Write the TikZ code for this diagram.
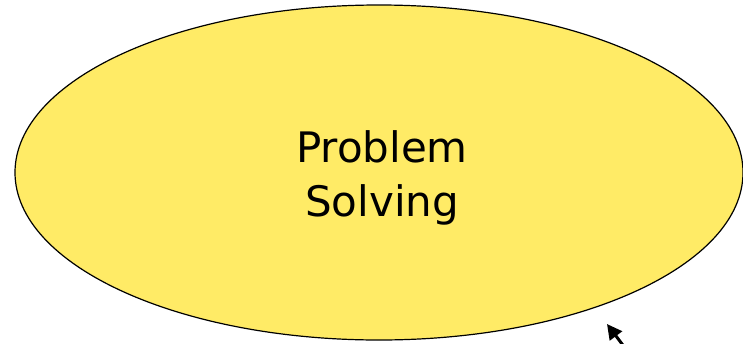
\documentclass[tikz,border=0pt]{standalone}
\usepackage{fontspec}
\setmainfont{DejaVu Sans}
\usetikzlibrary{shapes.geometric,arrows.meta}
\definecolor{blobyellow}{RGB}{255,235,102}

\begin{document}
\begin{tikzpicture}[x=1pt,y=1pt]
\path[use as bounding box] (0,0) rectangle (743,-343);

\node[draw, ellipse, line width=1.2pt, fill=blobyellow, minimum width=728pt, minimum height=335pt, inner sep=0pt] (blob) at (379,-172.5) {};
\node[align=center, font=\fontsize{42}{54}\selectfont] (label) at (382,-178) {Problem\\Solving};

\coordinate (cursortail) at (628,-352);
\coordinate (cursortip) at (607,-324);
\draw[line width=3pt, -{Triangle[length=15pt,width=15pt]}] (cursortail) -- (cursortip);
\end{tikzpicture}
\end{document}
